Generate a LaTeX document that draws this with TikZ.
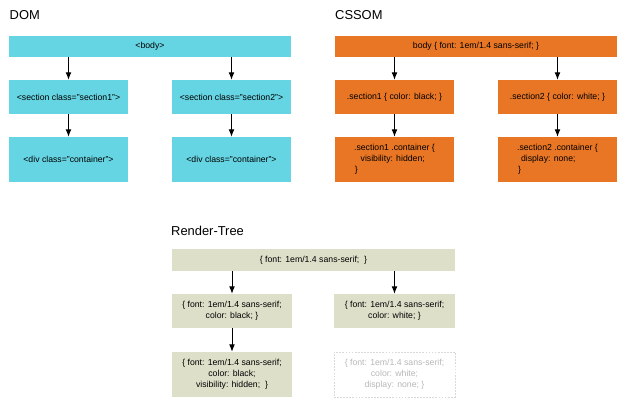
\documentclass[tikz,border=0pt]{standalone}
\usepackage{fontspec}
\setmainfont{Liberation Sans}
\usetikzlibrary{calc}
\usetikzlibrary{arrows.meta}
\newlength\px
\setlength\px{0.4mm}
\definecolor{domcyan}{RGB}{102,213,227}
\definecolor{cssorange}{RGB}{233,118,36}
\definecolor{rendergreen}{RGB}{221,223,201}
\tikzset{tree box/.style={rectangle,inner sep=0,align=center,font=\fontsize{9.9}{12.3}\selectfont,minimum width=119\px,minimum height=34\px}}
\tikzset{dom box/.style={tree box,fill=domcyan}}
\tikzset{css box/.style={tree box,fill=cssorange}}
\tikzset{render box/.style={tree box,fill=rendergreen}}
\tikzset{gone box/.style={tree box,fill=white,draw=black!15,dash pattern=on 2pt off 1.5pt,line width=0.7pt,text=black!28}}
\tikzset{tree title/.style={anchor=base west,inner sep=0,font=\fontsize{14.7}{17}\selectfont}}
\tikzset{tree arrow/.style={-{Latex[length=8.5pt,width=6.5pt]},black,line width=0.9pt}}

\begin{document}
\begin{tikzpicture}[x=0.4mm,y=-0.4mm]

            \def \colA{68.5}
            \def \colB{231.5}
            \def \cssShift{326}
            \def \rowBody{46.5}
            \def \rowSec{97}
            \def \rowDiv{159.5}

            \useasboundingbox (0, 0) rectangle (626, 412);

            \node[tree title] (domTitle) at (9.5, 19.5) {DOM};
            \node[dom box, minimum width=282\px, minimum height=21\px] (dBody) at (150, \rowBody) {<body>};
            \node[dom box] (dSecA) at (\colA, \rowSec) {<section class="section1">};
            \node[dom box] (dSecB) at (\colB, \rowSec) {<section class="section2">};
            \node[dom box, minimum height=45\px] (dDivA) at (\colA, \rowDiv) {<div class="container">};
            \node[dom box, minimum height=45\px] (dDivB) at (\colB, \rowDiv) {<div class="container">};

            \draw[tree arrow] (dSecA.north |- dBody.south) -- (dSecA.north);
            \draw[tree arrow] (dSecB.north |- dBody.south) -- (dSecB.north);
            \draw[tree arrow] (dSecA) -- (dDivA);
            \draw[tree arrow] (dSecB) -- (dDivB);

            \node[tree title] (cssTitle) at (335, 19.5) {CSSOM};
            \node[css box, minimum width=282\px, minimum height=21\px] (cBody) at (150+\cssShift, \rowBody) {body \{ font: 1em/1.4 sans-serif; \}};
            \node[css box] (cSecA) at (\colA+\cssShift, \rowSec) {.section1 \{ color: black; \}};
            \node[css box] (cSecB) at (\colB+\cssShift, \rowSec) {.section2 \{ color: white; \}};
            \node[css box, minimum height=45\px, align=left] (cDivA) at (\colA+\cssShift, \rowDiv)
              {.section1 .container \{\\\hspace*{0.75em}visibility: hidden;\\\hspace*{0.1em}\}};
            \node[css box, minimum height=45\px, align=left] (cDivB) at (\colB+\cssShift, \rowDiv)
              {.section2 .container \{\\\hspace*{0.45em}display: none;\\\hspace*{0.1em}\}};

            \draw[tree arrow] (cSecA.north |- cBody.south) -- (cSecA.north);
            \draw[tree arrow] (cSecB.north |- cBody.south) -- (cSecB.north);
            \draw[tree arrow] (cSecA) -- (cDivA);
            \draw[tree arrow] (cSecB) -- (cDivB);

            \node[tree title] (renderTitle) at (171, 235) {Render-Tree};
            \node[render box, minimum width=283\px, minimum height=22\px] (rBody) at (313.5, 260) {\{ font: 1em/1.4 sans-serif;~~\}};
            \node[render box, minimum width=120\px] (rSecA) at (232, 311) {\{ font: 1em/1.4 sans-serif;\\color: black; \}};
            \node[render box, minimum width=121\px] (rSecB) at (394.5, 311) {\{ font: 1em/1.4 sans-serif;\\color: white; \}};
            \node[render box, minimum width=120\px, minimum height=45\px] (rDivA) at (232, 374.5)
              {\{ font: 1em/1.4 sans-serif;\\color: black;\\visibility: hidden;~~\}};
            \node[gone box, minimum width=121\px, minimum height=45\px] (rDivB) at (394.5, 374.5)
              {\{ font: 1em/1.4 sans-serif;\\color: white;\\display: none; \}};

            \draw[tree arrow] (rSecA.north |- rBody.south) -- (rSecA.north);
            \draw[tree arrow] (rSecB.north |- rBody.south) -- (rSecB.north);
            \draw[tree arrow] (rSecA) -- (rDivA);

\end{tikzpicture}
\end{document}
